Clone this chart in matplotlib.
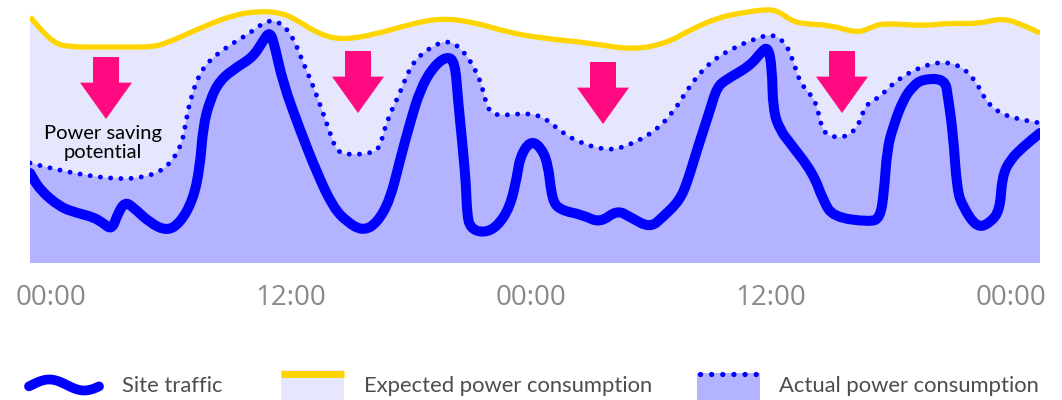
import matplotlib.pyplot as plt
import numpy as np
from matplotlib.path import Path
from matplotlib.patches import PathPatch

# time in hours from the first midnight, levels in relative units
exp_hours = [-1.05, 0.1, 0.95, 2.45, 3.95, 4.95, 5.7, 7.45, 9.1, 10.45, 11.6, 12.45, 13.3,
             14.45, 16.1, 17.8, 19.45, 21.1, 22.8, 24.45, 26.95, 29.1, 30.8, 31.95, 33.3,
             34.45, 35.85, 36.45, 36.95, 37.6, 38.95, 40.3, 40.95, 41.6, 43.6, 44.95, 46.3,
             47.6, 48.6, 49.45]
exp_power = [246, 220, 216, 216, 216, 216, 219, 235, 248, 252, 250, 241, 230,
             223, 228, 238, 245, 241, 231, 225, 220, 213, 220, 233, 245,
             250, 254, 251, 243, 239, 238, 230, 235, 240, 237, 240, 239,
             245, 238, 230]

act_hours = [-1.05, -0.05, 1.6, 3.3, 4.45, 5.45, 6.1, 6.55, 6.7, 6.95, 7.45, 8.1, 9.1, 9.95,
             10.6, 11.1, 11.6, 12.1, 12.55, 13.05, 13.55, 13.95, 14.3, 14.95, 16.1, 16.45,
             16.8, 17.45, 17.95, 18.6, 19.8, 20.6, 21.3, 21.6, 21.85, 22.3, 23.8, 24.6,
             25.1, 26.1, 27.6, 28.6, 30.1, 31.1, 31.95, 32.95, 34.1, 35.3, 36.05, 36.7,
             37.1, 37.45, 38.1, 38.35, 38.6, 39.3, 39.95, 40.45, 40.7, 41.45, 42.1, 43.3,
             44.6, 45.6, 46.3, 46.8, 47.6, 48.6, 49.45]
act_power = [100, 95, 88, 84, 85, 91, 103, 120, 136, 163, 191, 206, 220, 230,
             240, 243, 238, 226, 203, 180, 153, 130, 111, 108, 110, 116,
             143, 170, 196, 211, 224, 213, 191, 173, 153, 147, 150, 146,
             138, 123, 113, 115, 130, 150, 178, 201, 215, 225, 229, 221,
             203, 180, 166, 153, 130, 125, 128, 140, 158, 166, 180, 195,
             202, 196, 180, 160, 148, 143, 140]

traffic_hours = [-1.05, -0.55, 0.45, 1.3, 2.1, 2.6, 3.05, 3.35, 3.7, 4.1, 4.95, 5.8, 6.45,
                 7.1, 7.45, 7.6, 7.95, 8.45, 9.3, 10.1, 10.6, 10.95, 11.2, 11.6, 12.45,
                 13.3, 14.1, 14.8, 15.6, 16.3, 16.95, 17.45, 17.95, 18.45, 19.1, 19.8,
                 20.2, 20.35, 20.6, 20.75, 20.8, 20.95, 21.6, 22.3, 22.95, 23.3, 23.45,
                 23.95, 24.45, 24.85, 25.05, 25.45, 26.6, 27.45, 28.3, 28.95, 29.95, 30.6,
                 31.45, 31.85, 32.3, 32.95, 33.3, 33.8, 34.95, 35.55, 35.85, 36.05, 36.1,
                 36.45, 36.95, 38.1, 38.6, 39.1, 40.95, 41.45, 41.65, 41.8, 42.1, 42.6,
                 43.1, 43.6, 44.7, 44.85, 45.1, 45.3, 45.6, 46.3, 46.95, 47.45, 47.55,
                 47.95, 48.6, 49.45]
traffic = [90, 73, 56, 50, 46, 40, 33, 50, 61, 56, 40, 32, 40,
           63, 96, 136, 163, 183, 196, 206, 222, 232, 216, 180, 133,
           90, 56, 41, 32, 40, 63, 103, 140, 173, 196, 207,
           201, 163, 113, 78, 50, 35, 30, 36, 56, 86, 106,
           122, 117, 100, 63, 53, 48, 40, 53, 46, 35, 46,
           63, 83, 113, 153, 176, 184, 197, 212, 216, 196, 153,
           133, 120, 90, 63, 46, 41, 45, 70, 113, 136, 163,
           177, 184, 184, 166, 130, 73, 56, 35, 40, 53, 86,
           103, 116, 130]

# saving-potential arrows: x position, top and tip level
arrow_hours = [2.75, 15.35, 27.6, 39.55]
arrow_top = [206, 212, 201, 212]
arrow_tip = [144, 150, 139, 150]

tick_hours = [0, 12, 24, 36, 48]
tick_labels = ['00:00', '12:00', '00:00', '12:00', '00:00']

YELLOW = '#ffd500'
BLUE = '#0000ff'
LIGHT = '#e6e6fc'
DARK = '#b3b3ff'
PINK = '#ff0a80'


def smooth_path(x, y, close_to=None):
    # quadratic curve through segment midpoints, corners act as control points
    pts = np.column_stack([x, y]).astype(float)
    mids = (pts[:-1] + pts[1:]) / 2
    verts = [pts[0], mids[0]]
    codes = [Path.MOVETO, Path.LINETO]
    for i in range(1, len(pts) - 1):
        verts += [pts[i], mids[i]]
        codes += [Path.CURVE3, Path.CURVE3]
    verts.append(pts[-1])
    codes.append(Path.LINETO)
    if close_to is not None:
        verts += [(x[-1], close_to), (x[0], close_to), pts[0]]
        codes += [Path.LINETO, Path.LINETO, Path.CLOSEPOLY]
    return Path(verts, codes)


fig = plt.figure(figsize=(10.62, 4.0), dpi=100)
ax = fig.add_axes([30 / 1062, 137 / 400, 1010 / 1062, 258 / 400])

ax.add_patch(PathPatch(smooth_path(exp_hours, exp_power, 0), fc=LIGHT, lw=0))
ax.add_patch(PathPatch(smooth_path(act_hours, act_power, 0), fc=DARK, lw=0))
ax.add_patch(PathPatch(smooth_path(exp_hours, exp_power), fill=False, ec=YELLOW, lw=3.8,
                       capstyle='butt'))
ax.add_patch(PathPatch(smooth_path(act_hours, act_power), fill=False, ec=BLUE, lw=3.5,
                       capstyle='round', linestyle=(0, (0.01, 2.1))))
ax.add_patch(PathPatch(smooth_path(traffic_hours, traffic), fill=False, ec=BLUE, lw=7.2,
                       capstyle='round', joinstyle='round'))

for xh, top, tip in zip(arrow_hours, arrow_top, arrow_tip):
    ax.annotate('', xy=(xh, tip), xytext=(xh, top),
                arrowprops=dict(arrowstyle='simple,head_width=2,head_length=1.4,tail_width=1',
                                mutation_scale=18.7, color=PINK, lw=0,
                                shrinkA=0, shrinkB=0))

ax.text(2.6, 120, 'Power saving\npotential', ha='center', va='center',
        fontsize=14.5, family='Lato', color='black', linespacing=1.2)

ax.set_xlim(-1.05, 49.45)
ax.set_ylim(0, 258)
ax.set_xticks(tick_hours)
ax.set_xticklabels(tick_labels, family='Open Sans', fontsize=20, color='#8a8a8a')
ax.tick_params(axis='x', length=0, pad=15)
ax.set_yticks([])
for s in ax.spines.values():
    s.set_visible(False)

# legend row, laid out in pixel units
lg = fig.add_axes([0, 0, 1, 1], facecolor='none')
lg.set_xlim(0, 1062)
lg.set_ylim(400, 0)
lg.axis('off')

wx = np.linspace(29, 99, 60)
lg.plot(wx, 385 - 5.5 * np.sin((wx - 29) / 70 * 2 * np.pi - 0.25), color=BLUE, lw=7,
        solid_capstyle='round')
lg.add_patch(plt.Rectangle((281, 370), 63, 30, color=LIGHT, lw=0))
lg.plot([281, 344], [373.5, 373.5], color=YELLOW, lw=5, solid_capstyle='butt')
lg.add_patch(plt.Rectangle((697, 373), 63, 27, color=DARK, lw=0))
lg.plot([700, 758], [374, 374], color=BLUE, lw=3.8, dash_capstyle='round',
        linestyle=(0, (0.01, 2.1)))

for x0, label in [(122, 'Site traffic'), (364, 'Expected power consumption'),
                  (779, 'Actual power consumption')]:
    lg.text(x0, 386, label, ha='left', va='center', fontsize=15.8, family='Lato',
            color='#4d4d4d')

fig.savefig('out.png', dpi=100)
